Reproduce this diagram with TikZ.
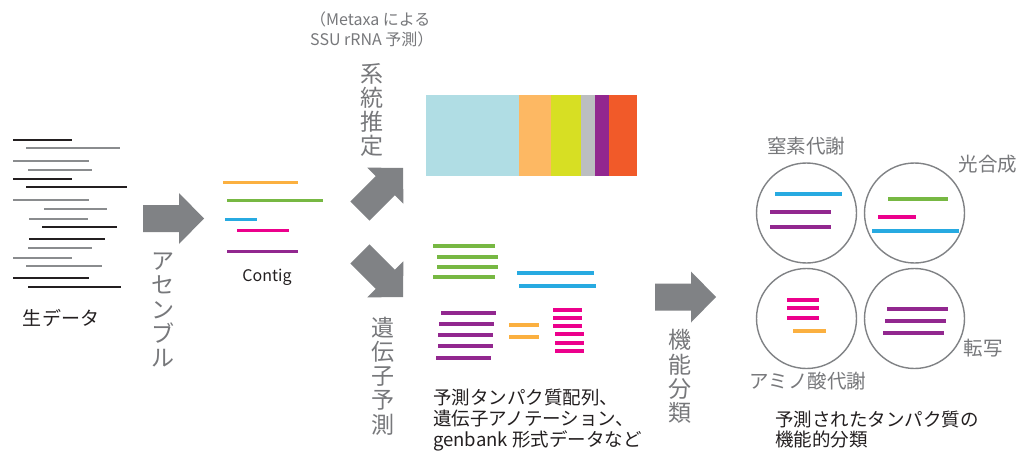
\documentclass[tikz,border=0pt]{standalone}
\usepackage{fontspec}
\setmainfont{Noto Sans CJK JP}
\definecolor{txtdark}{HTML}{231F20}
\definecolor{txtgray}{HTML}{77787B}
\definecolor{arrowgray}{HTML}{808285}
\definecolor{rawgray}{HTML}{8A8C8E}
\definecolor{cOrange}{HTML}{FBB040}
\definecolor{cGreen}{HTML}{77B843}
\definecolor{cBlue}{HTML}{27AAE1}
\definecolor{cPink}{HTML}{EC008C}
\definecolor{cPurple}{HTML}{92278F}
\definecolor{barBlue}{HTML}{B0DDE4}
\definecolor{barOrange}{HTML}{FDB863}
\definecolor{barYellow}{HTML}{D7DF23}
\definecolor{barGray}{HTML}{BCBEC0}
\definecolor{barPurple}{HTML}{92278F}
\definecolor{barRed}{HTML}{F15A29}
\begin{document}
\begin{tikzpicture}[x=1pt,y=-1pt,
  bigarrow/.pic={\fill[arrowgray] (0,-13.5) -- (36,-13.5) -- (36,-25.5) -- (61,0) -- (36,25.5) -- (36,13.5) -- (0,13.5) -- cycle;},
  rawblack/.style={draw=txtdark,line width=1.4pt},
  rawg/.style={draw=rawgray,line width=1.6pt},
  contig/.style={line width=3pt},
  gene/.style={line width=4pt},
  circline/.style={line width=4pt},
  fcircle/.style={draw=arrowgray,line width=1.4pt},
  vtext/.style={text=txtgray,align=center,inner sep=0pt,font=\fontsize{23}{24.2}\selectfont},
  lbl/.style={text=txtgray,inner sep=0pt,text height=0.88em,text depth=0.12em,font=\fontsize{19.5}{22}\selectfont},
  dtext/.style={text=txtdark,inner sep=0pt,text height=0.88em,text depth=0.12em,font=\fontsize{18.5}{21}\selectfont},
  smallgray/.style={text=txtgray,inner sep=0pt,text height=0.88em,text depth=0.12em,font=\fontsize{16}{20}\selectfont}
]
\useasboundingbox[fill=white] (0,0) rectangle (1019,457);

% raw reads
\draw[rawblack] (13,140) -- (72,140);
\draw[rawg] (26,148) -- (120,148);
\draw[rawg] (13,161) -- (89,161);
\draw[rawg] (28,170) -- (92,170);
\draw[rawblack] (13,179) -- (72,179);
\draw[rawblack] (26,187) -- (127,187);
\draw[rawg] (13,200) -- (89,200);
\draw[rawg] (44,209) -- (107,209);
\draw[rawg] (29,219) -- (88,219);
\draw[rawblack] (42,227) -- (117,227);
\draw[rawblack] (29,239) -- (105,239);
\draw[rawg] (28,248) -- (92,248);
\draw[rawg] (13,258) -- (72,258);
\draw[rawg] (26,266) -- (102,266);
\draw[rawblack] (13,278) -- (89,278);
\draw[rawblack] (28,287) -- (121,287);
\node[dtext,font=\fontsize{19}{21}\selectfont] (raw) at (61,322) {生データ};

% assembly
\pic at (143,218.5) {bigarrow};
\node[vtext] (asm) at (163,310) {ア\\セ\\ン\\ブ\\ル};

% contig
\draw[contig,cOrange] (223,183) -- (298,183);
\draw[contig,cGreen] (227,200) -- (323,200);
\draw[contig,cBlue] (225,219) -- (257,219);
\draw[contig,cPink] (237,230) -- (289,230);
\draw[contig,cPurple] (227,251) -- (298,251);
\node[text=txtdark,inner sep=0pt,font=\fontsize{16}{18}\selectfont] (contig) at (267,277) {Contig};

% phylogeny
\node[smallgray,anchor=west] (meta1) at (310,22) {（Metaxa による};
\node[smallgray,anchor=west] (meta2) at (310,42) {SSU rRNA 予測）};
\node[vtext] (phylo) at (372,110) {系\\統\\推\\定};
\pic[rotate=45] at (359.9,211.1) {bigarrow};
\fill[barBlue] (426,95) rectangle (519,176);
\fill[barOrange] (519,95) rectangle (551,176);
\fill[barYellow] (551,95) rectangle (581,176);
\fill[barGray] (581,95) rectangle (595,176);
\fill[barPurple] (595,95) rectangle (609,176);
\fill[barRed] (609,95) rectangle (637,176);

% gene prediction
\pic[rotate=-45] at (359.9,253.9) {bigarrow};
\node[vtext] (genepred) at (383,376) {遺\\伝\\子\\予\\測};
\draw[gene,cGreen] (433,246) -- (495,246);
\draw[gene,cGreen] (437,257) -- (498,257);
\draw[gene,cGreen] (437,267) -- (498,267);
\draw[gene,cGreen] (433,277) -- (495,277);
\draw[gene,cBlue] (517,273) -- (594,273);
\draw[gene,cBlue] (519,286) -- (596,286);
\draw[gene,cPurple] (441,313) -- (496,313);
\draw[gene,cPurple] (439,324) -- (494,324);
\draw[gene,cPurple] (438,335) -- (493,335);
\draw[gene,cPurple] (438,346) -- (493,346);
\draw[gene,cPurple] (436,358) -- (491,358);
\draw[gene,cOrange] (509,325) -- (539,325);
\draw[gene,cOrange] (509,337) -- (539,337);
\draw[gene,cPink] (553,310) -- (582,310);
\draw[gene,cPink] (553,318) -- (582,318);
\draw[gene,cPink] (553,326) -- (582,326);
\draw[gene,cPink] (555,334) -- (584,334);
\draw[gene,cPink] (555,343) -- (584,343);
\draw[gene,cPink] (555,351) -- (584,351);
\node[dtext,anchor=west] (cap1) at (433,401) {予測タンパク質配列、};
\node[dtext,anchor=west] (cap2) at (433,422) {遺伝子アノテーション、};
\node[dtext,anchor=west] (cap3) at (433,443) {genbank 形式データなど};

% functional classification
\pic at (655,297) {bigarrow};
\node[vtext] (func) at (680,376.5) {機\\能\\分\\類};

\node[fcircle,circle,minimum size=100pt,inner sep=0pt] (c1) at (806.5,213) {};
\node[fcircle,circle,minimum size=100pt,inner sep=0pt] (c2) at (914.5,213) {};
\node[fcircle,circle,minimum size=100pt,inner sep=0pt] (c3) at (806.5,318.5) {};
\node[fcircle,circle,minimum size=100pt,inner sep=0pt] (c4) at (914.5,318.5) {};

\draw[circline,cBlue] (775,194) -- (842,194);
\draw[circline,cPurple] (770,212) -- (831,212);
\draw[circline,cPurple] (770,227) -- (831,227);

\draw[circline,cGreen] (888,199) -- (948,199);
\draw[circline,cPink] (878,217) -- (916,217);
\draw[circline,cBlue] (872,231) -- (959,231);

\draw[circline,cPink] (787,300) -- (819,300);
\draw[circline,cPink] (787,308) -- (819,308);
\draw[circline,cPink] (787,318) -- (819,318);
\draw[circline,cOrange] (793,331) -- (826,331);

\draw[circline,cPurple] (887,309) -- (948,309);
\draw[circline,cPurple] (885,321) -- (946,321);
\draw[circline,cPurple] (883,333) -- (944,333);

\node[lbl] (nitro) at (806,150) {窒素代謝};
\node[lbl] (photo) at (988,168) {光合成};
\node[lbl] (trans) at (983,352) {転写};
\node[lbl] (amino) at (808,385) {アミノ酸代謝};
\node[dtext,anchor=west] (fcap1) at (775,423) {予測されたタンパク質の};
\node[dtext,anchor=west] (fcap2) at (775,443) {機能的分類};
\end{tikzpicture}
\end{document}
